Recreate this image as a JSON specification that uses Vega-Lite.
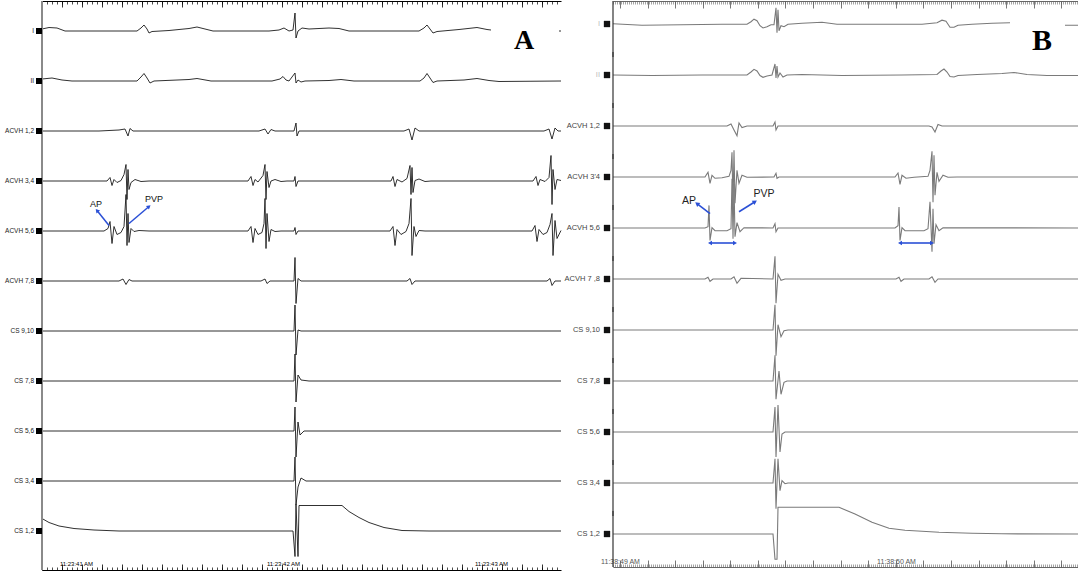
{
"$schema": "https://vega.github.io/schema/vega-lite/v6.json",
"padding": {"left": 5, "top": 0, "right": 0, "bottom": 0},
"background": "white",
"config": {"view": {"stroke": null}, "font": "Liberation Sans"},
"resolve": {"scale": {"x": "independent", "y": "independent"}},
"spacing": 1,
"datasets": {
"A": [
{"ch":"I","t":0,"v":2},{"ch":"I","t":7,"v":3.5},{"ch":"I","t":15,"v":3},{"ch":"I","t":23,"v":0},{"ch":"I","t":57,"v":0},{"ch":"I","t":95,"v":0},{"ch":"I","t":99,"v":3},{"ch":"I","t":102,"v":6},{"ch":"I","t":105,"v":2},{"ch":"I","t":107,"v":-2},{"ch":"I","t":110,"v":-0.5},{"ch":"I","t":127,"v":0.5},{"ch":"I","t":147,"v":2.5},{"ch":"I","t":155,"v":4},{"ch":"I","t":163,"v":2},{"ch":"I","t":171,"v":0},{"ch":"I","t":227,"v":0},{"ch":"I","t":237,"v":1},{"ch":"I","t":242,"v":3},{"ch":"I","t":247,"v":0},{"ch":"I","t":251,"v":1},{"ch":"I","t":253,"v":18},{"ch":"I","t":254,"v":-7},{"ch":"I","t":256,"v":0},{"ch":"I","t":260,"v":3},{"ch":"I","t":267,"v":2},{"ch":"I","t":287,"v":3},{"ch":"I","t":297,"v":2.5},{"ch":"I","t":307,"v":0},{"ch":"I","t":377,"v":0},{"ch":"I","t":382,"v":3},{"ch":"I","t":385,"v":6},{"ch":"I","t":388,"v":2},{"ch":"I","t":391,"v":-2},{"ch":"I","t":395,"v":-0.5},{"ch":"I","t":417,"v":1.5},{"ch":"I","t":435,"v":3.5},{"ch":"I","t":445,"v":1.5},{"ch":"I","t":449,"v":1},{"ch":"I","t":450,"v":null},{"ch":"I","t":517,"v":0},{"ch":"I","t":519,"v":0},
{"ch":"II","t":0,"v":2},{"ch":"II","t":10,"v":3},{"ch":"II","t":20,"v":1},{"ch":"II","t":30,"v":0},{"ch":"II","t":95,"v":0},{"ch":"II","t":99,"v":4},{"ch":"II","t":102,"v":7.5},{"ch":"II","t":105,"v":3},{"ch":"II","t":108,"v":-2},{"ch":"II","t":112,"v":0},{"ch":"II","t":147,"v":1.5},{"ch":"II","t":155,"v":2.5},{"ch":"II","t":169,"v":0},{"ch":"II","t":230,"v":0},{"ch":"II","t":238,"v":2},{"ch":"II","t":241,"v":4.5},{"ch":"II","t":244,"v":1},{"ch":"II","t":247,"v":0},{"ch":"II","t":253,"v":8},{"ch":"II","t":254,"v":-2},{"ch":"II","t":256,"v":1},{"ch":"II","t":259,"v":-1},{"ch":"II","t":263,"v":0},{"ch":"II","t":287,"v":0.5},{"ch":"II","t":299,"v":1.5},{"ch":"II","t":312,"v":0},{"ch":"II","t":378,"v":0},{"ch":"II","t":382,"v":3},{"ch":"II","t":385,"v":7.5},{"ch":"II","t":388,"v":3},{"ch":"II","t":391,"v":-1.5},{"ch":"II","t":395,"v":0},{"ch":"II","t":422,"v":1},{"ch":"II","t":435,"v":2.5},{"ch":"II","t":447,"v":0.5},{"ch":"II","t":457,"v":-0.5},{"ch":"II","t":519,"v":0},
{"ch":"ACVH 1,2","t":0,"v":0},{"ch":"ACVH 1,2","t":57,"v":0},{"ch":"ACVH 1,2","t":77,"v":1},{"ch":"ACVH 1,2","t":83,"v":2},{"ch":"ACVH 1,2","t":86,"v":-5},{"ch":"ACVH 1,2","t":88,"v":2.5},{"ch":"ACVH 1,2","t":91,"v":0},{"ch":"ACVH 1,2","t":217,"v":0},{"ch":"ACVH 1,2","t":223,"v":2},{"ch":"ACVH 1,2","t":226,"v":-3},{"ch":"ACVH 1,2","t":229,"v":1.5},{"ch":"ACVH 1,2","t":233,"v":0},{"ch":"ACVH 1,2","t":252,"v":0},{"ch":"ACVH 1,2","t":254,"v":8},{"ch":"ACVH 1,2","t":255,"v":-5},{"ch":"ACVH 1,2","t":257,"v":0},{"ch":"ACVH 1,2","t":362,"v":0},{"ch":"ACVH 1,2","t":367,"v":2},{"ch":"ACVH 1,2","t":370,"v":-9},{"ch":"ACVH 1,2","t":373,"v":3},{"ch":"ACVH 1,2","t":377,"v":0},{"ch":"ACVH 1,2","t":502,"v":0},{"ch":"ACVH 1,2","t":507,"v":2},{"ch":"ACVH 1,2","t":510,"v":-8},{"ch":"ACVH 1,2","t":513,"v":3},{"ch":"ACVH 1,2","t":516,"v":0},{"ch":"ACVH 1,2","t":519,"v":0},
{"ch":"ACVH 3,4","t":0,"v":0},{"ch":"ACVH 3,4","t":65,"v":0},{"ch":"ACVH 3,4","t":68,"v":3.5},{"ch":"ACVH 3,4","t":70,"v":-4.5},{"ch":"ACVH 3,4","t":72,"v":1.5},{"ch":"ACVH 3,4","t":75,"v":-1.5},{"ch":"ACVH 3,4","t":79,"v":0.5},{"ch":"ACVH 3,4","t":82,"v":6.5},{"ch":"ACVH 3,4","t":84,"v":16.5},{"ch":"ACVH 3,4","t":85,"v":-18.5},{"ch":"ACVH 3,4","t":86,"v":11.5},{"ch":"ACVH 3,4","t":87,"v":-8.5},{"ch":"ACVH 3,4","t":89,"v":-1.5},{"ch":"ACVH 3,4","t":93,"v":1.5},{"ch":"ACVH 3,4","t":99,"v":-0.5},{"ch":"ACVH 3,4","t":107,"v":0},{"ch":"ACVH 3,4","t":206,"v":0},{"ch":"ACVH 3,4","t":209,"v":4.5},{"ch":"ACVH 3,4","t":211,"v":-4.5},{"ch":"ACVH 3,4","t":213,"v":1.5},{"ch":"ACVH 3,4","t":216,"v":-1},{"ch":"ACVH 3,4","t":221,"v":5.5},{"ch":"ACVH 3,4","t":223,"v":16.5},{"ch":"ACVH 3,4","t":224,"v":-18.5},{"ch":"ACVH 3,4","t":225,"v":9.5},{"ch":"ACVH 3,4","t":227,"v":-6.5},{"ch":"ACVH 3,4","t":229,"v":0},{"ch":"ACVH 3,4","t":233,"v":1.5},{"ch":"ACVH 3,4","t":239,"v":-0.5},{"ch":"ACVH 3,4","t":245,"v":0},{"ch":"ACVH 3,4","t":252,"v":0},{"ch":"ACVH 3,4","t":253,"v":4.5},{"ch":"ACVH 3,4","t":254,"v":-5.5},{"ch":"ACVH 3,4","t":256,"v":0},{"ch":"ACVH 3,4","t":349,"v":0},{"ch":"ACVH 3,4","t":351,"v":4.5},{"ch":"ACVH 3,4","t":353,"v":-5.5},{"ch":"ACVH 3,4","t":355,"v":1.5},{"ch":"ACVH 3,4","t":360,"v":-1},{"ch":"ACVH 3,4","t":365,"v":2.5},{"ch":"ACVH 3,4","t":368,"v":15.5},{"ch":"ACVH 3,4","t":369,"v":-13.5},{"ch":"ACVH 3,4","t":370,"v":13.5},{"ch":"ACVH 3,4","t":371,"v":-11.5},{"ch":"ACVH 3,4","t":373,"v":0.5},{"ch":"ACVH 3,4","t":377,"v":2},{"ch":"ACVH 3,4","t":383,"v":-0.5},{"ch":"ACVH 3,4","t":389,"v":0},{"ch":"ACVH 3,4","t":491,"v":0},{"ch":"ACVH 3,4","t":494,"v":4.5},{"ch":"ACVH 3,4","t":496,"v":-4.5},{"ch":"ACVH 3,4","t":498,"v":1.5},{"ch":"ACVH 3,4","t":503,"v":-0.5},{"ch":"ACVH 3,4","t":507,"v":3.5},{"ch":"ACVH 3,4","t":509,"v":25.5},{"ch":"ACVH 3,4","t":510,"v":-23.5},{"ch":"ACVH 3,4","t":511,"v":11.5},{"ch":"ACVH 3,4","t":513,"v":-8.5},{"ch":"ACVH 3,4","t":515,"v":1.5},{"ch":"ACVH 3,4","t":519,"v":0.5},
{"ch":"ACVH 5,6","t":0,"v":0},{"ch":"ACVH 5,6","t":62,"v":0},{"ch":"ACVH 5,6","t":66,"v":2.5},{"ch":"ACVH 5,6","t":68,"v":9.5},{"ch":"ACVH 5,6","t":70,"v":-12.5},{"ch":"ACVH 5,6","t":72,"v":4.5},{"ch":"ACVH 5,6","t":75,"v":-3.5},{"ch":"ACVH 5,6","t":79,"v":-1.5},{"ch":"ACVH 5,6","t":82,"v":4.5},{"ch":"ACVH 5,6","t":84,"v":36.5},{"ch":"ACVH 5,6","t":85,"v":-14.5},{"ch":"ACVH 5,6","t":86,"v":17.5},{"ch":"ACVH 5,6","t":87,"v":-11.5},{"ch":"ACVH 5,6","t":89,"v":2.5},{"ch":"ACVH 5,6","t":92,"v":-0.5},{"ch":"ACVH 5,6","t":97,"v":0.5},{"ch":"ACVH 5,6","t":107,"v":0},{"ch":"ACVH 5,6","t":206,"v":0},{"ch":"ACVH 5,6","t":209,"v":4.5},{"ch":"ACVH 5,6","t":211,"v":-11.5},{"ch":"ACVH 5,6","t":213,"v":2.5},{"ch":"ACVH 5,6","t":216,"v":-3.5},{"ch":"ACVH 5,6","t":220,"v":-1.5},{"ch":"ACVH 5,6","t":222,"v":7.5},{"ch":"ACVH 5,6","t":223,"v":32.5},{"ch":"ACVH 5,6","t":224,"v":-17.5},{"ch":"ACVH 5,6","t":225,"v":17.5},{"ch":"ACVH 5,6","t":227,"v":-10.5},{"ch":"ACVH 5,6","t":229,"v":1.5},{"ch":"ACVH 5,6","t":233,"v":-0.5},{"ch":"ACVH 5,6","t":239,"v":0},{"ch":"ACVH 5,6","t":252,"v":0},{"ch":"ACVH 5,6","t":253,"v":3.5},{"ch":"ACVH 5,6","t":254,"v":-3.5},{"ch":"ACVH 5,6","t":256,"v":0},{"ch":"ACVH 5,6","t":348,"v":0},{"ch":"ACVH 5,6","t":351,"v":4.5},{"ch":"ACVH 5,6","t":353,"v":-14.5},{"ch":"ACVH 5,6","t":355,"v":1.5},{"ch":"ACVH 5,6","t":359,"v":-3.5},{"ch":"ACVH 5,6","t":364,"v":-0.5},{"ch":"ACVH 5,6","t":367,"v":7.5},{"ch":"ACVH 5,6","t":369,"v":32.5},{"ch":"ACVH 5,6","t":370,"v":-24.5},{"ch":"ACVH 5,6","t":372,"v":4.5},{"ch":"ACVH 5,6","t":374,"v":-5.5},{"ch":"ACVH 5,6","t":377,"v":0.5},{"ch":"ACVH 5,6","t":383,"v":0},{"ch":"ACVH 5,6","t":490,"v":0},{"ch":"ACVH 5,6","t":493,"v":5.5},{"ch":"ACVH 5,6","t":495,"v":-10.5},{"ch":"ACVH 5,6","t":497,"v":1.5},{"ch":"ACVH 5,6","t":501,"v":-3.5},{"ch":"ACVH 5,6","t":505,"v":-1.5},{"ch":"ACVH 5,6","t":508,"v":6.5},{"ch":"ACVH 5,6","t":510,"v":17.5},{"ch":"ACVH 5,6","t":511,"v":-24.5},{"ch":"ACVH 5,6","t":513,"v":10.5},{"ch":"ACVH 5,6","t":515,"v":-7.5},{"ch":"ACVH 5,6","t":519,"v":0.5},
{"ch":"ACVH 7,8","t":0,"v":0},{"ch":"ACVH 7,8","t":77,"v":0},{"ch":"ACVH 7,8","t":81,"v":2},{"ch":"ACVH 7,8","t":84,"v":-3.5},{"ch":"ACVH 7,8","t":87,"v":1.5},{"ch":"ACVH 7,8","t":90,"v":0},{"ch":"ACVH 7,8","t":219,"v":0},{"ch":"ACVH 7,8","t":223,"v":2},{"ch":"ACVH 7,8","t":225,"v":-2.5},{"ch":"ACVH 7,8","t":228,"v":0},{"ch":"ACVH 7,8","t":252,"v":0},{"ch":"ACVH 7,8","t":253,"v":23.5},{"ch":"ACVH 7,8","t":254,"v":-22.5},{"ch":"ACVH 7,8","t":256,"v":2.5},{"ch":"ACVH 7,8","t":259,"v":0},{"ch":"ACVH 7,8","t":365,"v":0},{"ch":"ACVH 7,8","t":368,"v":2.5},{"ch":"ACVH 7,8","t":370,"v":-3.5},{"ch":"ACVH 7,8","t":373,"v":0},{"ch":"ACVH 7,8","t":505,"v":0},{"ch":"ACVH 7,8","t":508,"v":2.5},{"ch":"ACVH 7,8","t":510,"v":-4.5},{"ch":"ACVH 7,8","t":513,"v":0},{"ch":"ACVH 7,8","t":519,"v":0},
{"ch":"CS 9,10","t":0,"v":0},{"ch":"CS 9,10","t":252,"v":0},{"ch":"CS 9,10","t":253,"v":26},{"ch":"CS 9,10","t":254,"v":-24},{"ch":"CS 9,10","t":256,"v":1},{"ch":"CS 9,10","t":259,"v":0},{"ch":"CS 9,10","t":519,"v":0},
{"ch":"CS 7,8","t":0,"v":0},{"ch":"CS 7,8","t":252,"v":0},{"ch":"CS 7,8","t":253,"v":27},{"ch":"CS 7,8","t":254,"v":-21},{"ch":"CS 7,8","t":256,"v":6},{"ch":"CS 7,8","t":259,"v":1},{"ch":"CS 7,8","t":267,"v":0},{"ch":"CS 7,8","t":519,"v":0},
{"ch":"CS 5,6","t":0,"v":0},{"ch":"CS 5,6","t":252,"v":0},{"ch":"CS 5,6","t":253,"v":24},{"ch":"CS 5,6","t":254,"v":-26},{"ch":"CS 5,6","t":256,"v":9},{"ch":"CS 5,6","t":258,"v":-4},{"ch":"CS 5,6","t":262,"v":0},{"ch":"CS 5,6","t":519,"v":0},
{"ch":"CS 3,4","t":0,"v":0},{"ch":"CS 3,4","t":252,"v":0},{"ch":"CS 3,4","t":253,"v":24},{"ch":"CS 3,4","t":254,"v":-24},{"ch":"CS 3,4","t":256,"v":-6},{"ch":"CS 3,4","t":259,"v":3},{"ch":"CS 3,4","t":264,"v":0},{"ch":"CS 3,4","t":519,"v":0},
{"ch":"CS 1,2","t":0,"v":12.5},{"ch":"CS 1,2","t":7,"v":8.5},{"ch":"CS 1,2","t":17,"v":5},{"ch":"CS 1,2","t":32,"v":2.5},{"ch":"CS 1,2","t":52,"v":1},{"ch":"CS 1,2","t":77,"v":0},{"ch":"CS 1,2","t":251,"v":0},{"ch":"CS 1,2","t":253,"v":-25.5},{"ch":"CS 1,2","t":254,"v":26.5},{"ch":"CS 1,2","t":256,"v":-25.5},{"ch":"CS 1,2","t":257,"v":25.5},{"ch":"CS 1,2","t":300,"v":25.5},{"ch":"CS 1,2","t":307,"v":19.5},{"ch":"CS 1,2","t":317,"v":13.5},{"ch":"CS 1,2","t":327,"v":8.5},{"ch":"CS 1,2","t":342,"v":3.5},{"ch":"CS 1,2","t":360,"v":0.5},{"ch":"CS 1,2","t":387,"v":0},{"ch":"CS 1,2","t":519,"v":0},
{"ch":"ACVH 5,6","k":"txt","txt":"AP","t":54,"v":27.5},
{"ch":"ACVH 5,6","k":"txt","txt":"PVP","t":112,"v":32.5},
{"ch":"ACVH 5,6","k":"arr","id":"ap","t":67,"v":5.5,"t2":55,"v2":20.5},
{"ch":"ACVH 5,6","k":"arr","id":"pvp","t":87,"v":7.5,"t2":107,"v2":24.5},
{"ch":"I","k":"panel","txt":"A","t":482,"v":-10}
],
"B": [
{"ch":"I","t":0,"v":0.3},{"ch":"I","t":29,"v":-1.2},{"ch":"I","t":69,"v":-0.7},{"ch":"I","t":109,"v":-0.2},{"ch":"I","t":134,"v":-0.2},{"ch":"I","t":138,"v":2.3},{"ch":"I","t":141,"v":4.8},{"ch":"I","t":144,"v":3.3},{"ch":"I","t":147,"v":-1.7},{"ch":"I","t":150,"v":-4},{"ch":"I","t":154,"v":-2.7},{"ch":"I","t":158,"v":-0.7},{"ch":"I","t":161,"v":-0.7},{"ch":"I","t":163,"v":16.3},{"ch":"I","t":164,"v":-8.7},{"ch":"I","t":165,"v":14.3},{"ch":"I","t":166,"v":-6.7},{"ch":"I","t":168,"v":-1.7},{"ch":"I","t":171,"v":-2.7},{"ch":"I","t":175,"v":-0.2},{"ch":"I","t":189,"v":0.8},{"ch":"I","t":209,"v":1.8},{"ch":"I","t":224,"v":-0.2},{"ch":"I","t":259,"v":-0.2},{"ch":"I","t":309,"v":-0.2},{"ch":"I","t":324,"v":1.3},{"ch":"I","t":329,"v":3.8},{"ch":"I","t":333,"v":2.8},{"ch":"I","t":337,"v":-3.2},{"ch":"I","t":341,"v":-3.2},{"ch":"I","t":345,"v":-1.2},{"ch":"I","t":359,"v":-0.2},{"ch":"I","t":379,"v":0.8},{"ch":"I","t":397,"v":1.3},{"ch":"I","t":398,"v":null},{"ch":"I","t":452,"v":-1.2},{"ch":"I","t":467,"v":-1.2},
{"ch":"II","t":0,"v":0},{"ch":"II","t":39,"v":-0.5},{"ch":"II","t":89,"v":0},{"ch":"II","t":134,"v":0},{"ch":"II","t":138,"v":3},{"ch":"II","t":141,"v":5.7},{"ch":"II","t":144,"v":4},{"ch":"II","t":147,"v":-0.5},{"ch":"II","t":150,"v":-2.3},{"ch":"II","t":154,"v":-1},{"ch":"II","t":159,"v":0},{"ch":"II","t":162,"v":11},{"ch":"II","t":163,"v":-3},{"ch":"II","t":164,"v":9},{"ch":"II","t":165,"v":-2},{"ch":"II","t":167,"v":2},{"ch":"II","t":170,"v":-2},{"ch":"II","t":174,"v":0},{"ch":"II","t":189,"v":0.5},{"ch":"II","t":229,"v":-0.5},{"ch":"II","t":289,"v":0},{"ch":"II","t":324,"v":0.5},{"ch":"II","t":328,"v":4},{"ch":"II","t":331,"v":6},{"ch":"II","t":334,"v":3},{"ch":"II","t":337,"v":-1.5},{"ch":"II","t":341,"v":-2},{"ch":"II","t":345,"v":-0.5},{"ch":"II","t":364,"v":0.5},{"ch":"II","t":389,"v":1.5},{"ch":"II","t":401,"v":2.5},{"ch":"II","t":414,"v":0.5},{"ch":"II","t":434,"v":-0.5},{"ch":"II","t":467,"v":-0.5},
{"ch":"ACVH 1,2","t":0,"v":0},{"ch":"ACVH 1,2","t":114,"v":0},{"ch":"ACVH 1,2","t":118,"v":2},{"ch":"ACVH 1,2","t":121,"v":-4},{"ch":"ACVH 1,2","t":124,"v":-9.7},{"ch":"ACVH 1,2","t":126,"v":3},{"ch":"ACVH 1,2","t":129,"v":-1.5},{"ch":"ACVH 1,2","t":134,"v":0},{"ch":"ACVH 1,2","t":160,"v":0},{"ch":"ACVH 1,2","t":162,"v":4},{"ch":"ACVH 1,2","t":163,"v":-4},{"ch":"ACVH 1,2","t":165,"v":0},{"ch":"ACVH 1,2","t":316,"v":0},{"ch":"ACVH 1,2","t":319,"v":-1},{"ch":"ACVH 1,2","t":322,"v":-6},{"ch":"ACVH 1,2","t":325,"v":1.5},{"ch":"ACVH 1,2","t":329,"v":0},{"ch":"ACVH 1,2","t":467,"v":0},
{"ch":"ACVH 3'4","t":0,"v":0},{"ch":"ACVH 3'4","t":92,"v":0},{"ch":"ACVH 3'4","t":95,"v":4.7},{"ch":"ACVH 3'4","t":97,"v":-6.3},{"ch":"ACVH 3'4","t":99,"v":1.7},{"ch":"ACVH 3'4","t":102,"v":-1.3},{"ch":"ACVH 3'4","t":109,"v":-0.8},{"ch":"ACVH 3'4","t":116,"v":0.7},{"ch":"ACVH 3'4","t":118,"v":6.7},{"ch":"ACVH 3'4","t":119,"v":24.7},{"ch":"ACVH 3'4","t":120,"v":-28.3},{"ch":"ACVH 3'4","t":121,"v":26.7},{"ch":"ACVH 3'4","t":122,"v":-26.3},{"ch":"ACVH 3'4","t":124,"v":6.7},{"ch":"ACVH 3'4","t":126,"v":-6.3},{"ch":"ACVH 3'4","t":129,"v":1.7},{"ch":"ACVH 3'4","t":134,"v":-0.3},{"ch":"ACVH 3'4","t":161,"v":0},{"ch":"ACVH 3'4","t":163,"v":3.7},{"ch":"ACVH 3'4","t":164,"v":-1.3},{"ch":"ACVH 3'4","t":166,"v":0},{"ch":"ACVH 3'4","t":282,"v":0},{"ch":"ACVH 3'4","t":285,"v":4},{"ch":"ACVH 3'4","t":287,"v":-7.3},{"ch":"ACVH 3'4","t":289,"v":1.7},{"ch":"ACVH 3'4","t":293,"v":-1.3},{"ch":"ACVH 3'4","t":301,"v":-0.3},{"ch":"ACVH 3'4","t":315,"v":0.7},{"ch":"ACVH 3'4","t":317,"v":6.7},{"ch":"ACVH 3'4","t":319,"v":25.7},{"ch":"ACVH 3'4","t":320,"v":-25.3},{"ch":"ACVH 3'4","t":321,"v":21.7},{"ch":"ACVH 3'4","t":322,"v":-18.3},{"ch":"ACVH 3'4","t":324,"v":4.7},{"ch":"ACVH 3'4","t":326,"v":-4.3},{"ch":"ACVH 3'4","t":330,"v":1.7},{"ch":"ACVH 3'4","t":335,"v":-0.3},{"ch":"ACVH 3'4","t":344,"v":0},{"ch":"ACVH 3'4","t":467,"v":0},
{"ch":"ACVH 5,6","t":0,"v":0},{"ch":"ACVH 5,6","t":92,"v":0},{"ch":"ACVH 5,6","t":95,"v":1.3},{"ch":"ACVH 5,6","t":96,"v":22.6},{"ch":"ACVH 5,6","t":97,"v":-12.4},{"ch":"ACVH 5,6","t":99,"v":0.3},{"ch":"ACVH 5,6","t":102,"v":-2.7},{"ch":"ACVH 5,6","t":114,"v":-2.7},{"ch":"ACVH 5,6","t":118,"v":-0.7},{"ch":"ACVH 5,6","t":119,"v":49.3},{"ch":"ACVH 5,6","t":120,"v":-10.7},{"ch":"ACVH 5,6","t":121,"v":44.3},{"ch":"ACVH 5,6","t":122,"v":-8.7},{"ch":"ACVH 5,6","t":124,"v":5.3},{"ch":"ACVH 5,6","t":127,"v":-3.7},{"ch":"ACVH 5,6","t":131,"v":0.3},{"ch":"ACVH 5,6","t":160,"v":0},{"ch":"ACVH 5,6","t":162,"v":4.3},{"ch":"ACVH 5,6","t":163,"v":-3.7},{"ch":"ACVH 5,6","t":165,"v":0},{"ch":"ACVH 5,6","t":282,"v":0},{"ch":"ACVH 5,6","t":285,"v":2.3},{"ch":"ACVH 5,6","t":286,"v":21},{"ch":"ACVH 5,6","t":287,"v":-12.4},{"ch":"ACVH 5,6","t":289,"v":0.3},{"ch":"ACVH 5,6","t":292,"v":-2.7},{"ch":"ACVH 5,6","t":311,"v":-2.7},{"ch":"ACVH 5,6","t":315,"v":-0.7},{"ch":"ACVH 5,6","t":317,"v":26.3},{"ch":"ACVH 5,6","t":319,"v":-23.7},{"ch":"ACVH 5,6","t":320,"v":19.3},{"ch":"ACVH 5,6","t":321,"v":-15.7},{"ch":"ACVH 5,6","t":323,"v":3.3},{"ch":"ACVH 5,6","t":326,"v":-2.7},{"ch":"ACVH 5,6","t":330,"v":0.3},{"ch":"ACVH 5,6","t":467,"v":0},
{"ch":"ACVH 7 ,8","t":0,"v":0},{"ch":"ACVH 7 ,8","t":92,"v":0},{"ch":"ACVH 7 ,8","t":95,"v":1.7},{"ch":"ACVH 7 ,8","t":97,"v":-2.3},{"ch":"ACVH 7 ,8","t":100,"v":0},{"ch":"ACVH 7 ,8","t":118,"v":0},{"ch":"ACVH 7 ,8","t":121,"v":2.2},{"ch":"ACVH 7 ,8","t":124,"v":-4.3},{"ch":"ACVH 7 ,8","t":128,"v":0.7},{"ch":"ACVH 7 ,8","t":160,"v":0},{"ch":"ACVH 7 ,8","t":162,"v":22.7},{"ch":"ACVH 7 ,8","t":163,"v":-24.3},{"ch":"ACVH 7 ,8","t":165,"v":4.7},{"ch":"ACVH 7 ,8","t":168,"v":-1.3},{"ch":"ACVH 7 ,8","t":172,"v":0},{"ch":"ACVH 7 ,8","t":283,"v":0},{"ch":"ACVH 7 ,8","t":286,"v":1.7},{"ch":"ACVH 7 ,8","t":288,"v":-2.3},{"ch":"ACVH 7 ,8","t":291,"v":0},{"ch":"ACVH 7 ,8","t":316,"v":0},{"ch":"ACVH 7 ,8","t":319,"v":2.2},{"ch":"ACVH 7 ,8","t":322,"v":-3.3},{"ch":"ACVH 7 ,8","t":325,"v":0},{"ch":"ACVH 7 ,8","t":467,"v":0},
{"ch":"CS 9,10","t":0,"v":0},{"ch":"CS 9,10","t":160,"v":0},{"ch":"CS 9,10","t":162,"v":25.3},{"ch":"CS 9,10","t":163,"v":-25.7},{"ch":"CS 9,10","t":165,"v":5.3},{"ch":"CS 9,10","t":168,"v":-6.7},{"ch":"CS 9,10","t":171,"v":-0.7},{"ch":"CS 9,10","t":175,"v":0},{"ch":"CS 9,10","t":467,"v":0},
{"ch":"CS 7,8","t":0,"v":0},{"ch":"CS 7,8","t":160,"v":0},{"ch":"CS 7,8","t":162,"v":25.7},{"ch":"CS 7,8","t":163,"v":-18.3},{"ch":"CS 7,8","t":166,"v":10},{"ch":"CS 7,8","t":168,"v":-13.3},{"ch":"CS 7,8","t":171,"v":-1.3},{"ch":"CS 7,8","t":174,"v":0},{"ch":"CS 7,8","t":467,"v":0},
{"ch":"CS 5,6","t":0,"v":0},{"ch":"CS 5,6","t":160,"v":0},{"ch":"CS 5,6","t":162,"v":25},{"ch":"CS 5,6","t":163,"v":-25},{"ch":"CS 5,6","t":165,"v":27},{"ch":"CS 5,6","t":167,"v":-20},{"ch":"CS 5,6","t":169,"v":-2},{"ch":"CS 5,6","t":172,"v":0},{"ch":"CS 5,6","t":467,"v":0},
{"ch":"CS 3,4","t":0,"v":0},{"ch":"CS 3,4","t":160,"v":0},{"ch":"CS 3,4","t":162,"v":24.3},{"ch":"CS 3,4","t":163,"v":-25.7},{"ch":"CS 3,4","t":165,"v":24.3},{"ch":"CS 3,4","t":167,"v":-7.7},{"ch":"CS 3,4","t":169,"v":2.3},{"ch":"CS 3,4","t":172,"v":-0.7},{"ch":"CS 3,4","t":175,"v":0},{"ch":"CS 3,4","t":467,"v":0},
{"ch":"CS 1,2","t":0,"v":0},{"ch":"CS 1,2","t":160,"v":0},{"ch":"CS 1,2","t":162,"v":-25.3},{"ch":"CS 1,2","t":164,"v":-25.3},{"ch":"CS 1,2","t":165,"v":26.7},{"ch":"CS 1,2","t":226,"v":26.7},{"ch":"CS 1,2","t":242,"v":20},{"ch":"CS 1,2","t":259,"v":11.7},{"ch":"CS 1,2","t":276,"v":5.7},{"ch":"CS 1,2","t":292,"v":3.7},{"ch":"CS 1,2","t":326,"v":1.7},{"ch":"CS 1,2","t":359,"v":0.7},{"ch":"CS 1,2","t":389,"v":0.2},{"ch":"CS 1,2","t":467,"v":0},
{"ch":"ACVH 5,6","k":"txt","txt":"AP","t":76,"v":27.3},
{"ch":"ACVH 5,6","k":"txt","txt":"PVP","t":151,"v":34.3},
{"ch":"ACVH 5,6","k":"arr","id":"ap","t":97,"v":14.3,"t2":84,"v2":24.3},
{"ch":"ACVH 5,6","k":"arr","id":"pvp","t":126,"v":16.3,"t2":142,"v2":26.3},
{"ch":"ACVH 5,6","k":"span","t":97,"t2":122,"v":-15},
{"ch":"ACVH 5,6","k":"span","t":287,"t2":319,"v":-15},
{"ch":"I","k":"panel","txt":"B","t":429,"v":-16.7}
]
},
"hconcat": [
{
"data": {"name": "A"},
"spacing": 0,
"bounds": "flush",
"facet": {"row": {"field": "ch", "type": "nominal", "title": null,
  "sort": ["I","II","ACVH 1,2","ACVH 3,4","ACVH 5,6","ACVH 7,8","CS 9,10","CS 7,8","CS 5,6","CS 3,4","CS 1,2"],
  "header": {"title": null, "labels": false}}},
"spec": {
"width": 519, "height": 50,
"resolve": {"axis": {"x": "independent"}},
"layer": [
{"transform": [{"filter": "!datum.k"}],
 "mark": {"type": "line", "color": "#1a1a1a", "strokeWidth": 0.9},
 "encoding": {
  "x": {"field": "t", "type": "quantitative", "scale": {"domain": [0, 519], "nice": false, "zero": false},
        "axis": {"orient": "top", "tickCount": 104, "tickSize": -3, "tickColor": "#000", "tickWidth": 0.7, "domainColor": "#000", "domainWidth": 1, "labels": false, "grid": false, "title": null}},
  "y": {"field": "v", "type": "quantitative", "scale": {"domain": [-20, 30], "nice": false, "zero": false}, "axis": null}
 }},
{"transform": [{"filter": "!datum.k && datum.t == 0"}],
 "mark": {"type": "rule", "color": "#8a8a8a", "strokeWidth": 2},
 "encoding": {
  "x": {"field": "t", "type": "quantitative", "axis": null},
  "y": {"datum": 30, "type": "quantitative", "axis": null},
  "y2": {"datum": -39}
 }},
{"transform": [{"filter": "!datum.k && datum.t == 0"}],
 "mark": {"type": "square", "size": 36, "color": "#000", "opacity": 1, "xOffset": -3},
 "encoding": {
  "x": {"field": "t", "type": "quantitative", "axis": {"orient": "top", "tickCount": 26, "tickSize": -6, "tickColor": "#000", "tickWidth": 0.8, "domain": false, "labels": false, "grid": false, "title": null}},
  "y": {"datum": 0, "type": "quantitative", "axis": null}
 }},
{"transform": [{"filter": "!datum.k && datum.t == 0"}],
 "mark": {"type": "text", "align": "right", "baseline": "middle", "xOffset": -8, "fontSize": 6.5, "color": "#222", "font": "Liberation Sans"},
 "encoding": {
  "x": {"field": "t", "type": "quantitative", "axis": null},
  "y": {"datum": 0, "type": "quantitative", "axis": null},
  "text": {"field": "ch"}
 }},
{"transform": [{"filter": "datum.k == 'txt'"}],
 "mark": {"type": "text", "fontSize": 9, "color": "#111", "font": "Liberation Sans"},
 "encoding": {
  "x": {"field": "t", "type": "quantitative", "axis": {"orient": "bottom", "offset": 19, "values": [34, 241, 449], "ticks": false, "domain": false, "labelPadding": -10, "labelFontSize": 6, "labelColor": "#000", "labelFont": "Liberation Sans", "labelExpr": "datum.value < 100 ? '11:23:41 AM' : datum.value < 300 ? '11:23:42 AM' : '11:23:43 AM'", "grid": false, "title": null}},
  "y": {"field": "v", "type": "quantitative", "axis": null},
  "text": {"field": "txt"}
 }},
{"transform": [{"filter": "datum.k == 'arr'"}],
 "mark": {"type": "rule", "color": "#2b50d6", "strokeWidth": 1.5},
 "encoding": {
  "x": {"field": "t", "type": "quantitative", "axis": {"orient": "bottom", "offset": 19, "tickCount": 104, "tickSize": -3, "tickColor": "#000", "tickWidth": 0.7, "domainColor": "#000", "domainWidth": 1, "labels": false, "grid": false, "title": null}},
  "x2": {"field": "t2"},
  "y": {"field": "v", "type": "quantitative", "axis": null},
  "y2": {"field": "v2"}
 }},
{"transform": [{"filter": "datum.k == 'arr'"}],
 "mark": {"type": "point", "shape": "triangle-up", "filled": true, "size": 22, "color": "#2b50d6", "opacity": 1},
 "encoding": {
  "x": {"field": "t2", "type": "quantitative", "axis": {"orient": "bottom", "offset": 19, "tickCount": 26, "tickSize": -6, "tickColor": "#000", "tickWidth": 0.8, "domain": false, "labels": false, "grid": false, "title": null}},
  "y": {"field": "v2", "type": "quantitative", "axis": null},
  "angle": {"condition": {"test": "datum.id == 'ap'", "value": 321}, "value": 50}
 }},
{"transform": [{"filter": "datum.k == 'panel'"}],
 "mark": {"type": "text", "font": "Liberation Serif", "fontSize": 28, "fontWeight": "bold", "color": "#000"},
 "encoding": {
  "x": {"field": "t", "type": "quantitative", "axis": null},
  "y": {"field": "v", "type": "quantitative", "axis": null},
  "text": {"field": "txt"}
 }}
]
}
},
{
"data": {"name": "B"},
"spacing": 0,
"bounds": "flush",
"facet": {"row": {"field": "ch", "type": "nominal", "title": null,
  "sort": ["I","II","ACVH 1,2","ACVH 3'4","ACVH 5,6","ACVH 7 ,8","CS 9,10","CS 7,8","CS 5,6","CS 3,4","CS 1,2"],
  "header": {"title": null, "labels": false}}},
"spec": {
"width": 467, "height": 51,
"resolve": {"axis": {"x": "independent"}},
"layer": [
{"transform": [{"filter": "!datum.k"}],
 "mark": {"type": "line", "color": "#7a7a7a", "strokeWidth": 1.1},
 "encoding": {
  "x": {"field": "t", "type": "quantitative", "scale": {"domain": [0, 467], "nice": false, "zero": false},
        "axis": {"orient": "top", "tickCount": 150, "tickSize": -3, "tickColor": "#666", "tickWidth": 0.6, "domainColor": "#666", "domainWidth": 1, "labels": false, "grid": false, "title": null}},
  "y": {"field": "v", "type": "quantitative", "scale": {"domain": [-28, 23], "nice": false, "zero": false}, "axis": null}
 }},
{"transform": [{"filter": "!datum.k && datum.t == 0"}],
 "mark": {"type": "rule", "color": "#333333", "strokeWidth": 1.2},
 "encoding": {
  "x": {"field": "t", "type": "quantitative", "axis": null},
  "y": {"datum": 23, "type": "quantitative", "axis": null},
  "y2": {"datum": -33}
 }},
{"transform": [{"filter": "!datum.k && datum.t == 0"}],
 "mark": {"type": "square", "size": 40, "color": "#111", "opacity": 1, "xOffset": -6},
 "encoding": {
  "x": {"field": "t", "type": "quantitative", "axis": {"orient": "top", "values": [7, 35, 62, 90, 117, 145, 172, 200, 228, 255, 283, 310, 338, 366, 393, 421, 448], "tickSize": -7, "tickColor": "#555", "tickWidth": 0.8, "domain": false, "labels": false, "grid": false, "title": null}},
  "y": {"datum": 0, "type": "quantitative", "axis": null}
 }},
{"transform": [{"filter": "!datum.k && datum.t == 0"}],
 "mark": {"type": "text", "align": "right", "baseline": "middle", "xOffset": -13, "fontSize": 7.5, "font": "Liberation Sans"},
 "encoding": {
  "x": {"field": "t", "type": "quantitative", "axis": null},
  "y": {"datum": 0, "type": "quantitative", "axis": null},
  "text": {"field": "ch"},
  "color": {"condition": {"test": "datum.ch == 'I' || datum.ch == 'II'", "value": "#bbbbbb"}, "value": "#444444"}
 }},
{"transform": [{"filter": "datum.k == 'txt'"}],
 "mark": {"type": "text", "fontSize": 10.5, "color": "#222", "font": "Liberation Sans"},
 "encoding": {
  "x": {"field": "t", "type": "quantitative", "axis": {"orient": "bottom", "offset": 5, "values": [7, 283], "ticks": false, "domain": false, "labelPadding": -10, "labelFontSize": 7, "labelColor": "#555", "labelFont": "Liberation Sans", "labelExpr": "datum.value < 100 ? '11:38:49 AM' : '11:38:50 AM'", "grid": false, "title": null}},
  "y": {"field": "v", "type": "quantitative", "axis": null},
  "text": {"field": "txt"}
 }},
{"transform": [{"filter": "datum.k == 'arr'"}],
 "mark": {"type": "rule", "color": "#2b50d6", "strokeWidth": 1.6},
 "encoding": {
  "x": {"field": "t", "type": "quantitative", "axis": {"orient": "bottom", "offset": 5, "tickCount": 150, "tickSize": -3, "tickColor": "#666", "tickWidth": 0.6, "domainColor": "#666", "domainWidth": 1, "labels": false, "grid": false, "title": null}},
  "x2": {"field": "t2"},
  "y": {"field": "v", "type": "quantitative", "axis": null},
  "y2": {"field": "v2"}
 }},
{"transform": [{"filter": "datum.k == 'arr'"}],
 "mark": {"type": "point", "shape": "triangle-up", "filled": true, "size": 26, "color": "#2b50d6", "opacity": 1},
 "encoding": {
  "x": {"field": "t2", "type": "quantitative", "axis": {"orient": "bottom", "offset": 5, "values": [7, 35, 62, 90, 117, 145, 172, 200, 228, 255, 283, 310, 338, 366, 393, 421, 448], "tickSize": -7, "tickColor": "#555", "tickWidth": 0.8, "domain": false, "labels": false, "grid": false, "title": null}},
  "y": {"field": "v2", "type": "quantitative", "axis": null},
  "angle": {"condition": {"test": "datum.id == 'ap'", "value": 308}, "value": 58}
 }},
{"transform": [{"filter": "datum.k == 'span'"}],
 "mark": {"type": "rule", "color": "#2b50d6", "strokeWidth": 1.6},
 "encoding": {
  "x": {"field": "t", "type": "quantitative", "axis": null},
  "x2": {"field": "t2"},
  "y": {"field": "v", "type": "quantitative", "axis": null}
 }},
{"transform": [{"filter": "datum.k == 'span'"}],
 "mark": {"type": "point", "shape": "triangle-left", "filled": true, "size": 22, "color": "#2b50d6", "opacity": 1},
 "encoding": {
  "x": {"field": "t", "type": "quantitative", "axis": null},
  "y": {"field": "v", "type": "quantitative", "axis": null}
 }},
{"transform": [{"filter": "datum.k == 'span'"}],
 "mark": {"type": "point", "shape": "triangle-right", "filled": true, "size": 22, "color": "#2b50d6", "opacity": 1},
 "encoding": {
  "x": {"field": "t2", "type": "quantitative", "axis": null},
  "y": {"field": "v", "type": "quantitative", "axis": null}
 }},
{"transform": [{"filter": "datum.k == 'panel'"}],
 "mark": {"type": "text", "font": "Liberation Serif", "fontSize": 30, "fontWeight": "bold", "color": "#000"},
 "encoding": {
  "x": {"field": "t", "type": "quantitative", "axis": null},
  "y": {"field": "v", "type": "quantitative", "axis": null},
  "text": {"field": "txt"}
 }}
]
}
}
]
}
